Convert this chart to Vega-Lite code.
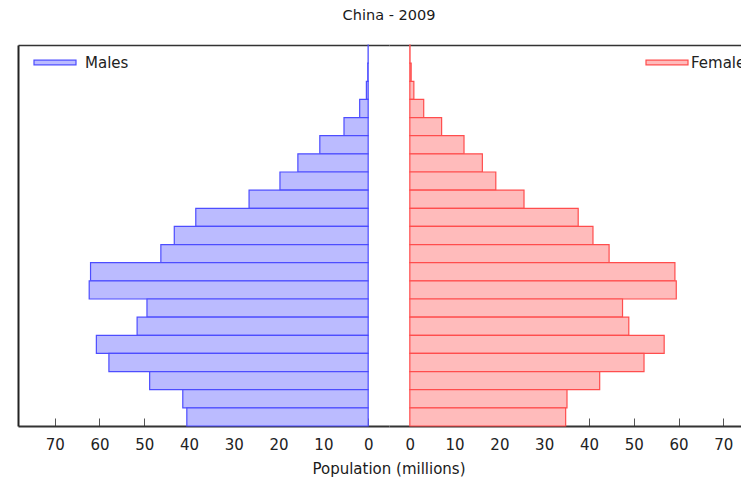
{
  "$schema": "https://vega.github.io/schema/vega-lite/v6.json",
  "padding": {"left": 18, "top": 8, "right": 5, "bottom": 5},
  "title": {"text": "China - 2009", "fontSize": 14.5, "fontWeight": "normal", "color": "#1a1a1a", "anchor": "middle", "offset": 17},
  "config": {
    "font": "DejaVu Sans",
    "view": {"stroke": null},
    "axis": {"grid": false, "labelFont": "DejaVu Sans", "labelFontSize": 15, "labelColor": "#222", "domainColor": "#333", "domainWidth": 2, "tickColor": "#555", "tickWidth": 1},
    "legend": {"labelFont": "DejaVu Sans", "labelFontSize": 15, "labelColor": "#222"},
    "title": {"font": "DejaVu Sans"}
  },
  "datasets": {
    "pop": [
      {"age": "100+", "sex": "Males", "pop": 0.02},
      {"age": "95-99", "sex": "Males", "pop": 0.1},
      {"age": "90-94", "sex": "Males", "pop": 0.4},
      {"age": "85-89", "sex": "Males", "pop": 1.9},
      {"age": "80-84", "sex": "Males", "pop": 5.4},
      {"age": "75-79", "sex": "Males", "pop": 10.8},
      {"age": "70-74", "sex": "Males", "pop": 15.7},
      {"age": "65-69", "sex": "Males", "pop": 19.7},
      {"age": "60-64", "sex": "Males", "pop": 26.6},
      {"age": "55-59", "sex": "Males", "pop": 38.5},
      {"age": "50-54", "sex": "Males", "pop": 43.3},
      {"age": "45-49", "sex": "Males", "pop": 46.3},
      {"age": "40-44", "sex": "Males", "pop": 62.0},
      {"age": "35-39", "sex": "Males", "pop": 62.3},
      {"age": "30-34", "sex": "Males", "pop": 49.4},
      {"age": "25-29", "sex": "Males", "pop": 51.6},
      {"age": "20-24", "sex": "Males", "pop": 60.7},
      {"age": "15-19", "sex": "Males", "pop": 57.9},
      {"age": "10-14", "sex": "Males", "pop": 48.8},
      {"age": "5-9", "sex": "Males", "pop": 41.4},
      {"age": "0-4", "sex": "Males", "pop": 40.5},
      {"age": "100+", "sex": "Females", "pop": 0.05},
      {"age": "95-99", "sex": "Females", "pop": 0.3},
      {"age": "90-94", "sex": "Females", "pop": 0.9},
      {"age": "85-89", "sex": "Females", "pop": 3.1},
      {"age": "80-84", "sex": "Females", "pop": 7.1},
      {"age": "75-79", "sex": "Females", "pop": 12.1},
      {"age": "70-74", "sex": "Females", "pop": 16.2},
      {"age": "65-69", "sex": "Females", "pop": 19.2},
      {"age": "60-64", "sex": "Females", "pop": 25.5},
      {"age": "55-59", "sex": "Females", "pop": 37.6},
      {"age": "50-54", "sex": "Females", "pop": 40.9},
      {"age": "45-49", "sex": "Females", "pop": 44.5},
      {"age": "40-44", "sex": "Females", "pop": 59.2},
      {"age": "35-39", "sex": "Females", "pop": 59.5},
      {"age": "30-34", "sex": "Females", "pop": 47.5},
      {"age": "25-29", "sex": "Females", "pop": 48.9},
      {"age": "20-24", "sex": "Females", "pop": 56.8},
      {"age": "15-19", "sex": "Females", "pop": 52.3},
      {"age": "10-14", "sex": "Females", "pop": 42.4},
      {"age": "5-9", "sex": "Females", "pop": 35.1},
      {"age": "0-4", "sex": "Females", "pop": 34.8}
    ]
  },
  "vconcat": [
    {
      "title": {"text": "Population (millions)", "orient": "bottom", "fontSize": 15, "fontWeight": "normal", "color": "#1a1a1a", "anchor": "middle", "offset": 10},
      "spacing": 0,
      "resolve": {"scale": {"fill": "independent", "stroke": "independent", "x": "independent"}, "legend": {"fill": "independent", "stroke": "independent"}},
      "hconcat": [
        {
          "width": 371,
          "height": 381,
          "data": {"name": "pop"},
          "transform": [{"filter": "datum.sex === 'Males'"}],
          "layer": [
            {
              "mark": {"type": "bar", "strokeWidth": 1.2},
              "encoding": {
                "y": {"field": "age", "type": "ordinal", "scale": {"domain": ["100+","95-99","90-94","85-89","80-84","75-79","70-74","65-69","60-64","55-59","50-54","45-49","40-44","35-39","30-34","25-29","20-24","15-19","10-14","5-9","0-4"], "paddingInner": 0, "paddingOuter": 0}, "axis": {"title": null, "labels": false, "ticks": false, "domain": true, "domainColor": "#222", "domainWidth": 2}},
                "x": {"field": "pop", "type": "quantitative", "stack": null, "scale": {"domain": [-4.65, 78.2], "reverse": true, "nice": false, "zero": false}, "axis": {"values": [0,10,20,30,40,50,60,70], "title": null, "tickSize": -8, "labelPadding": 19}},
                "fill": {"field": "sex", "type": "nominal", "scale": {"range": ["#bbbbff"]}, "legend": {"title": null, "orient": "none", "legendX": 15, "legendY": -4.5, "symbolType": "M-1,-0.11H1V0.11H-1Z", "symbolSize": 1764, "labelOffset": 8, "symbolStrokeWidth": 1.2}},
                "stroke": {"field": "sex", "type": "nominal", "scale": {"range": ["#4d4dff"]}, "legend": {"title": null, "orient": "none", "legendX": 15, "legendY": -4.5, "symbolType": "M-1,-0.11H1V0.11H-1Z", "symbolSize": 1764, "labelOffset": 8, "symbolStrokeWidth": 1.2}}
              }
            },
            {
              "mark": {"type": "bar", "opacity": 0},
              "encoding": {
                "y": {"field": "age", "type": "ordinal", "axis": {"title": null, "labels": false, "ticks": false, "domain": true, "domainColor": "#222", "domainWidth": 2}},
                "x": {"field": "pop", "type": "quantitative", "stack": null, "axis": {"orient": "top", "labels": false, "ticks": false, "title": null, "domainColor": "#333", "domainWidth": 1.5}}
              }
            }
          ],
          "resolve": {"axis": {"x": "independent"}}
        },
        {
          "width": 371,
          "height": 381,
          "data": {"name": "pop"},
          "transform": [{"filter": "datum.sex === 'Females'"}],
          "layer": [
            {
              "mark": {"type": "bar", "strokeWidth": 1.2},
              "encoding": {
                "y": {"field": "age", "type": "ordinal", "scale": {"domain": ["100+","95-99","90-94","85-89","80-84","75-79","70-74","65-69","60-64","55-59","50-54","45-49","40-44","35-39","30-34","25-29","20-24","15-19","10-14","5-9","0-4"], "paddingInner": 0, "paddingOuter": 0}, "axis": null},
                "x": {"field": "pop", "type": "quantitative", "stack": null, "scale": {"domain": [-4.65, 78.2], "nice": false, "zero": false}, "axis": {"values": [0,10,20,30,40,50,60,70], "title": null, "tickSize": -8, "labelPadding": 19}},
                "fill": {"field": "sex", "type": "nominal", "scale": {"range": ["#ffbbbb"]}, "legend": {"title": null, "orient": "none", "legendX": 256, "legendY": -4.5, "symbolType": "M-1,-0.11H1V0.11H-1Z", "symbolSize": 1764, "labelOffset": 2, "symbolStrokeWidth": 1.2}},
                "stroke": {"field": "sex", "type": "nominal", "scale": {"range": ["#ff4d4d"]}, "legend": {"title": null, "orient": "none", "legendX": 256, "legendY": -4.5, "symbolType": "M-1,-0.11H1V0.11H-1Z", "symbolSize": 1764, "labelOffset": 2, "symbolStrokeWidth": 1.2}}
              }
            },
            {
              "mark": {"type": "bar", "opacity": 0},
              "encoding": {
                "y": {"field": "age", "type": "ordinal", "axis": null},
                "x": {"field": "pop", "type": "quantitative", "stack": null, "axis": {"orient": "top", "labels": false, "ticks": false, "title": null, "domainColor": "#333", "domainWidth": 1.5}}
              }
            }
          ],
          "resolve": {"axis": {"x": "independent"}}
        }
      ]
    }
  ]
}
